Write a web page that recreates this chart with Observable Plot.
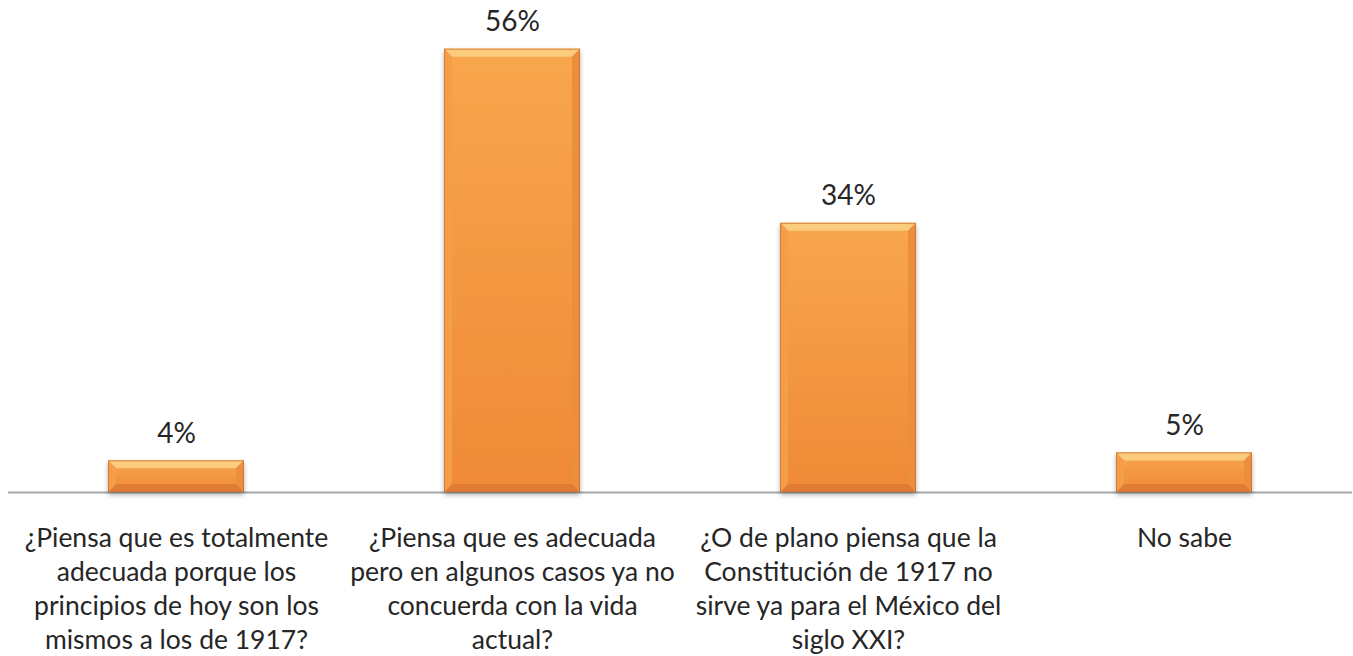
<!DOCTYPE html>
<html>
<head>
<meta charset="utf-8">
<script src="https://cdn.jsdelivr.net/npm/d3@7"></script>
<script src="https://cdn.jsdelivr.net/npm/@observablehq/plot@0.6"></script>
<style>
  html, body { margin: 0; padding: 0; background: #fff; }
  #chart svg { display: block; }
</style>
</head>
<body>
<div id="chart"></div>
<script>
const categories = [
  "¿Piensa que es totalmente adecuada porque los principios de hoy son los mismos a los de 1917?",
  "¿Piensa que es adecuada pero en algunos casos ya no concuerda con la vida actual?",
  "¿O de plano piensa que la Constitución de 1917 no sirve ya para el México del siglo XXI?",
  "No sabe"
];
const values = [4, 56, 34, 5];
const tickLabels = [
  "¿Piensa que es totalmente\nadecuada porque los\nprincipios de hoy son los\nmismos a los de 1917?",
  "¿Piensa que es adecuada\npero en algunos casos ya no\nconcuerda con la vida\nactual?",
  "¿O de plano piensa que la\nConstitución de 1917 no\nsirve ya para el México del\nsiglo XXI?",
  "No sabe"
];

const data = categories.map((c, i) => ({cat: c, value: values[i], label: tickLabels[i]}));
const FONT = "Lato, 'Open Sans', sans-serif";

const chart = Plot.plot({
  width: 1353,
  height: 656,
  marginLeft: 8,
  marginRight: 1,
  marginTop: 17,
  marginBottom: 164,
  style: {fontFamily: FONT, background: "#fff"},
  x: {domain: categories, paddingInner: 0.595, paddingOuter: 0.2975, axis: null},
  y: {domain: [0, 60], axis: null},
  marks: [
    Plot.ruleY([0], {stroke: "#A6A6A6", strokeWidth: 2}),
    Plot.barY(data, {x: "cat", y: "value", className: "bevelbars", fill: "url(#faceGrad)"}),
    Plot.text(data, {x: "cat", y: "value", text: d => d.value + "%", dy: -27, fontSize: 28, fill: "#262626", fontFamily: FONT}),
    Plot.text(data, {x: "cat", y: 0, text: "label", dy: 30.5, lineAnchor: "top", lineHeight: 1.285, fontSize: 26.5, fill: "#262626", fontFamily: FONT})
  ]
});

// defs: gradients and shadow
const svg = d3.select(chart);
const defs = svg.insert("defs", ":first-child");
const fg = defs.append("linearGradient").attr("id", "faceGrad").attr("x1", 0).attr("y1", 0).attr("x2", 0).attr("y2", 1);
fg.append("stop").attr("offset", "0%").attr("stop-color", "#F8A64D");
fg.append("stop").attr("offset", "100%").attr("stop-color", "#EF8A36");
const sh = defs.append("filter").attr("id", "barShadow").attr("x", "-10%").attr("y", "-10%").attr("width", "120%").attr("height", "130%");
sh.append("feDropShadow").attr("dx", 0).attr("dy", 3).attr("stdDeviation", 2.5).attr("flood-color", "#000").attr("flood-opacity", 0.3);

// bevel edges drawn from the rects Plot produced
const g = svg.select("g.bevelbars");
g.attr("filter", "url(#barShadow)");
g.selectAll("rect").each(function() {
  const r = d3.select(this);
  const x = +r.attr("x"), y = +r.attr("y"), w = +r.attr("width"), h = +r.attr("height");
  const b = Math.min(8, h / 3);
  const parent = d3.select(this.parentNode);
  const poly = (pts, fill) => parent.append("polygon").attr("points", pts.map(p => p.join(",")).join(" ")).attr("fill", fill);
  poly([[x, y], [x + w, y], [x + w - b, y + b], [x + b, y + b]], "#FBCB7E");
  poly([[x, y + h], [x + w, y + h], [x + w - b, y + h - b], [x + b, y + h - b]], "#E07C30");
  poly([[x, y], [x + b, y + b], [x + b, y + h - b], [x, y + h]], "#F49E48");
  poly([[x + w, y], [x + w - b, y + b], [x + w - b, y + h - b], [x + w, y + h]], "#EC8F3C");
  parent.append("rect").attr("x", x + 0.5).attr("y", y + 0.5).attr("width", w - 1).attr("height", h - 1).attr("fill", "none").attr("stroke", "#CD7030").attr("stroke-width", 1).attr("stroke-opacity", 0.8);
});

document.getElementById("chart").appendChild(chart);
</script>
</body>
</html>
